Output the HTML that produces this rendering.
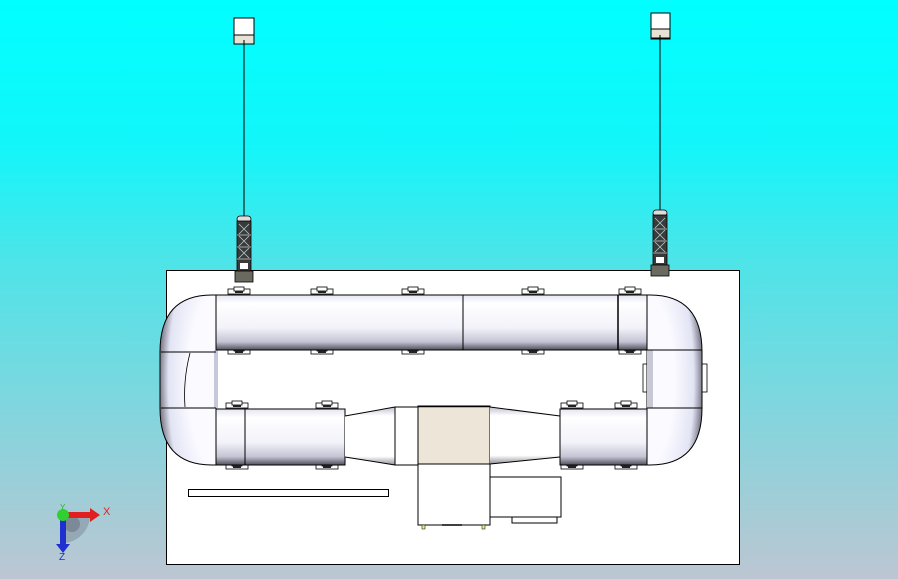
<!DOCTYPE html>
<html><head><style>html,body{margin:0;padding:0;width:898px;height:579px;overflow:hidden}</style></head>
<body>
<svg width="898" height="579" viewBox="0 0 898 579" xmlns="http://www.w3.org/2000/svg" font-family="Liberation Sans, sans-serif">
<defs>
<linearGradient id="bg" x1="0" y1="0" x2="0" y2="1">
<stop offset="0" stop-color="#00ffff"/><stop offset="0.25" stop-color="#12f6fa"/>
<stop offset="0.45" stop-color="#4de4e8"/><stop offset="0.7" stop-color="#80d6de"/>
<stop offset="1" stop-color="#bcc6d2"/></linearGradient>
<linearGradient id="ph" x1="0" y1="0" x2="0" y2="1">
<stop offset="0" stop-color="#e4e6f2"/><stop offset="0.15" stop-color="#ffffff"/>
<stop offset="0.6" stop-color="#f2f2fa"/><stop offset="0.85" stop-color="#c4c4d4"/>
<stop offset="1" stop-color="#50505c"/></linearGradient>
<radialGradient id="bl" cx="1" cy="0.5" r="1">
<stop offset="0.5" stop-color="#fafaff"/><stop offset="0.85" stop-color="#e2e4f4"/><stop offset="1" stop-color="#80808f"/></radialGradient>
<radialGradient id="br" cx="0" cy="0.5" r="1">
<stop offset="0.5" stop-color="#fafaff"/><stop offset="0.85" stop-color="#e2e4f4"/><stop offset="1" stop-color="#80808f"/></radialGradient>
<linearGradient id="cone" x1="0" y1="0" x2="0" y2="1">
<stop offset="0" stop-color="#c0c0d0"/><stop offset="0.15" stop-color="#fff"/><stop offset="0.85" stop-color="#fff"/><stop offset="1" stop-color="#909098"/></linearGradient>
<g id="clamp"><rect x="-11" y="-3" width="22" height="5" fill="#fff" stroke="#000" stroke-width="0.8"/><rect x="-5" y="-5" width="10" height="4" fill="#fff" stroke="#000" stroke-width="0.8"/><rect x="-4" y="-1" width="8" height="2" fill="#222"/></g>
<g id="tower">
<rect x="-7" y="0" width="14" height="6" rx="3" fill="#ddd" stroke="#000" stroke-width="0.8"/>
<rect x="-7" y="5" width="14" height="50" fill="#3a3a3a" stroke="#000" stroke-width="0.8"/>
<path d="M-5 8 L5 18 M5 8 L-5 18 M-5 20 L5 30 M5 20 L-5 30 M-5 32 L5 42 M5 32 L-5 42" stroke="#acc" stroke-width="0.8"/>
<path d="M-7 19 H7 M-7 31 H7 M-7 43 H7" stroke="#ccc" stroke-width="0.8"/>
<rect x="-4" y="47" width="8" height="6" fill="#fff"/>
<rect x="-9" y="55" width="18" height="11" fill="#6a6a60" stroke="#000" stroke-width="0.8"/>
</g>
</defs>
<rect width="898" height="579" fill="url(#bg)"/>
<rect x="234" y="18" width="20" height="26" fill="#fff" stroke="#000" stroke-width="1"/>
<rect x="234" y="35" width="20" height="9" fill="#e8e2d4" stroke="#000" stroke-width="1"/>
<line x1="244" y1="40" x2="244" y2="216" stroke="#000"/>
<rect x="651" y="13" width="19" height="26" fill="#fff" stroke="#000" stroke-width="1"/>
<rect x="651" y="29" width="19" height="9" fill="#e8e2d4" stroke="#000" stroke-width="1"/>
<line x1="660" y1="35" x2="660" y2="210" stroke="#000"/>
<rect x="166.5" y="270.5" width="573" height="294" fill="#fff" stroke="#000"/>
<use href="#tower" x="244" y="216"/>
<use href="#tower" x="660" y="210"/>
<g>
<use href="#clamp" x="239" y="292"/><use href="#clamp" x="322" y="292"/><use href="#clamp" x="413" y="292"/><use href="#clamp" x="533" y="292"/><use href="#clamp" x="630" y="292"/>
<use href="#clamp" x="239" y="352"/><use href="#clamp" x="322" y="352"/><use href="#clamp" x="413" y="352"/><use href="#clamp" x="533" y="352"/><use href="#clamp" x="630" y="352"/>
<use href="#clamp" x="237" y="406"/><use href="#clamp" x="327" y="406"/><use href="#clamp" x="572" y="406"/><use href="#clamp" x="626" y="406"/>
<use href="#clamp" x="237" y="467"/><use href="#clamp" x="327" y="467"/><use href="#clamp" x="572" y="467"/><use href="#clamp" x="626" y="467"/>
<rect x="643" y="364" width="5" height="28" fill="#fff" stroke="#000" stroke-width="0.8"/>
<rect x="702" y="364" width="5" height="28" fill="#fff" stroke="#000" stroke-width="0.8"/>
</g>
<path d="M216 295 H212 Q160 295 160 352 V408 Q160 465 212 465 H216 Z" fill="url(#bl)" stroke="#000" stroke-width="1"/>
<path d="M216 350 V408" stroke="#c8c8dc" stroke-width="4"/>
<line x1="161" y1="352" x2="216" y2="352" stroke="#000"/>
<line x1="161" y1="408" x2="216" y2="408" stroke="#000"/>
<path d="M190 353 Q183 380 185 407" fill="none" stroke="#000" stroke-width="0.8"/>
<path d="M647 295 H650 Q702 295 702 352 V408 Q702 465 650 465 H647 Z" fill="url(#br)" stroke="#000" stroke-width="1"/>
<path d="M650 350 V408" stroke="#c8c8d4" stroke-width="6"/>
<line x1="647" y1="350" x2="702" y2="350" stroke="#000"/>
<line x1="647" y1="408" x2="702" y2="408" stroke="#000"/>
<rect x="216" y="295" width="431" height="55" fill="url(#ph)" stroke="#000"/>
<line x1="463" y1="295" x2="463" y2="350" stroke="#000"/>
<line x1="618" y1="295" x2="618" y2="350" stroke="#000" stroke-width="1.5"/>
<line x1="647" y1="295" x2="647" y2="350" stroke="#000"/>
<rect x="216" y="409" width="129" height="56" fill="url(#ph)" stroke="#000"/>
<line x1="245" y1="409" x2="245" y2="465" stroke="#000"/>
<path d="M345 416 L395 407 V465 L345 457 Z" fill="url(#cone)"/>
<path d="M345 416 L395 407 M345 457 L395 465" stroke="#000"/>
<rect x="395" y="407" width="23" height="58" fill="#fff" stroke="#000"/>
<rect x="418" y="406" width="72" height="58" fill="#ede5d8" stroke="#000"/>
<line x1="418" y1="406.5" x2="490" y2="406.5" stroke="#000" stroke-width="1.5"/>
<path d="M490 407 L560 416 V457 L490 464 Z" fill="url(#cone)"/>
<path d="M490 407 L560 416 M490 464 L560 457" stroke="#000"/>
<rect x="560" y="409" width="87" height="56" fill="url(#ph)" stroke="#000"/>
<rect x="418" y="464" width="72" height="61" fill="#fff" stroke="#000"/>
<rect x="490" y="477" width="71" height="40" fill="#fff" stroke="#000"/>
<rect x="512" y="517" width="45" height="6" fill="#fff" stroke="#000"/>
<rect x="422" y="525" width="3" height="4" fill="#ee8" stroke="#000" stroke-width="0.5"/>
<rect x="482" y="525" width="3" height="4" fill="#ee8" stroke="#000" stroke-width="0.5"/>
<line x1="442" y1="525" x2="462" y2="525" stroke="#000" stroke-width="1.5"/>
<rect x="188.5" y="489.5" width="200" height="7" fill="#fff" stroke="#000"/>
<path d="M63 515 L90 515 A28 28 0 0 1 63 543 Z" fill="#8a9aa8" opacity="0.7"/>
<circle cx="72" cy="524" r="8" fill="#6a7680" opacity="0.6"/>
<rect x="63" y="512" width="28" height="6" fill="#e02020"/>
<path d="M90 508 L100 515 L90 522 Z" fill="#e02020"/>
<rect x="60" y="515" width="6" height="30" fill="#2030d0"/>
<path d="M56 544 L63 553 L70 544 Z" fill="#2030d0"/>
<circle cx="63" cy="515" r="6" fill="#30d030"/>
<text x="103" y="515" font-size="11" fill="#e02020">X</text>
<text x="59" y="560" font-size="10" fill="#2030d0">Z</text>
<text x="60" y="510" font-size="8" fill="#30b030">Y</text>
</svg>
</body></html>
